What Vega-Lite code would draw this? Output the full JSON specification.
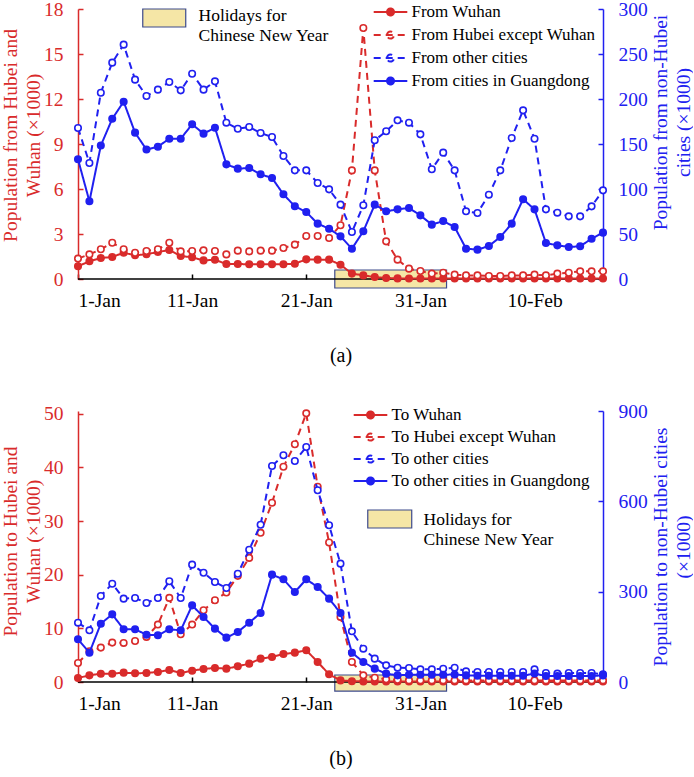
{
"$schema": "https://vega.github.io/schema/vega-lite/v6.json",
"padding": {"left": 0, "top": -1, "right": 0, "bottom": 0},
"spacing": 35,
"config": {
  "font": "Liberation Serif",
  "view": {"stroke": null},
  "axis": {"labelFont": "Liberation Serif", "titleFont": "Liberation Serif", "labelFontSize": 19.5, "titleFontSize": 19.5, "titleFontWeight": "normal", "grid": false, "tickSize": -5, "labelPadding": 20, "tickWidth": 1.5, "domainWidth": 1.5},
  "legend": {"labelFont": "Liberation Serif", "labelFontSize": 17, "labelColor": "black", "padding": 0, "labelLimit": 400}
},
"datasets": {
  "hol": [{"start": "2020-01-23T12:00:00Z", "end": "2020-02-02T07:00:00Z"}],
  "a": [
    {"date":"2020-01-01","From Wuhan":0.85,"From Hubei except Wuhan":1.36,"From other cities":167.8,"From cities in Guangdong":133},
    {"date":"2020-01-02","From Wuhan":1.18,"From Hubei except Wuhan":1.64,"From other cities":128.9,"From cities in Guangdong":86.3},
    {"date":"2020-01-03","From Wuhan":1.4,"From Hubei except Wuhan":1.98,"From other cities":207,"From cities in Guangdong":148.3},
    {"date":"2020-01-04","From Wuhan":1.47,"From Hubei except Wuhan":2.42,"From other cities":240.4,"From cities in Guangdong":178},
    {"date":"2020-01-05","From Wuhan":1.75,"From Hubei except Wuhan":1.98,"From other cities":260.4,"From cities in Guangdong":197},
    {"date":"2020-01-06","From Wuhan":1.58,"From Hubei except Wuhan":1.75,"From other cities":221.5,"From cities in Guangdong":162.6},
    {"date":"2020-01-07","From Wuhan":1.65,"From Hubei except Wuhan":1.87,"From other cities":203.3,"From cities in Guangdong":143.8},
    {"date":"2020-01-08","From Wuhan":1.8,"From Hubei except Wuhan":1.98,"From other cities":210.4,"From cities in Guangdong":147},
    {"date":"2020-01-09","From Wuhan":1.93,"From Hubei except Wuhan":2.42,"From other cities":218.9,"From cities in Guangdong":155.9},
    {"date":"2020-01-10","From Wuhan":1.53,"From Hubei except Wuhan":1.84,"From other cities":209.6,"From cities in Guangdong":155.9},
    {"date":"2020-01-11","From Wuhan":1.45,"From Hubei except Wuhan":1.87,"From other cities":228.1,"From cities in Guangdong":171.9},
    {"date":"2020-01-12","From Wuhan":1.24,"From Hubei except Wuhan":1.91,"From other cities":210.4,"From cities in Guangdong":161.5},
    {"date":"2020-01-13","From Wuhan":1.28,"From Hubei except Wuhan":1.87,"From other cities":219.6,"From cities in Guangdong":168.1},
    {"date":"2020-01-14","From Wuhan":1.0,"From Hubei except Wuhan":1.64,"From other cities":173.7,"From cities in Guangdong":127.4},
    {"date":"2020-01-15","From Wuhan":1.0,"From Hubei except Wuhan":1.89,"From other cities":167,"From cities in Guangdong":122.6},
    {"date":"2020-01-16","From Wuhan":0.98,"From Hubei except Wuhan":1.84,"From other cities":168.9,"From cities in Guangdong":123.3},
    {"date":"2020-01-17","From Wuhan":0.98,"From Hubei except Wuhan":1.89,"From other cities":162.2,"From cities in Guangdong":116.3},
    {"date":"2020-01-18","From Wuhan":0.98,"From Hubei except Wuhan":1.89,"From other cities":157.8,"From cities in Guangdong":112.2},
    {"date":"2020-01-19","From Wuhan":0.98,"From Hubei except Wuhan":2.07,"From other cities":136.7,"From cities in Guangdong":94.1},
    {"date":"2020-01-20","From Wuhan":1.02,"From Hubei except Wuhan":2.29,"From other cities":120.7,"From cities in Guangdong":80.8},
    {"date":"2020-01-21","From Wuhan":1.31,"From Hubei except Wuhan":2.87,"From other cities":120.7,"From cities in Guangdong":74.4},
    {"date":"2020-01-22","From Wuhan":1.29,"From Hubei except Wuhan":2.87,"From other cities":106.7,"From cities in Guangdong":61.5},
    {"date":"2020-01-23","From Wuhan":1.29,"From Hubei except Wuhan":2.73,"From other cities":99.6,"From cities in Guangdong":55.9},
    {"date":"2020-01-24","From Wuhan":0.95,"From Hubei except Wuhan":3.58,"From other cities":82.6,"From cities in Guangdong":47.4},
    {"date":"2020-01-25","From Wuhan":0.36,"From Hubei except Wuhan":7.24,"From other cities":52.2,"From cities in Guangdong":33.7},
    {"date":"2020-01-26","From Wuhan":0.24,"From Hubei except Wuhan":16.73,"From other cities":81.9,"From cities in Guangdong":53},
    {"date":"2020-01-27","From Wuhan":0.13,"From Hubei except Wuhan":7.24,"From other cities":154.1,"From cities in Guangdong":82.6},
    {"date":"2020-01-28","From Wuhan":0.07,"From Hubei except Wuhan":2.51,"From other cities":164.1,"From cities in Guangdong":75.2},
    {"date":"2020-01-29","From Wuhan":0.04,"From Hubei except Wuhan":1.29,"From other cities":176.3,"From cities in Guangdong":77.4},
    {"date":"2020-01-30","From Wuhan":0.03,"From Hubei except Wuhan":0.69,"From other cities":173.7,"From cities in Guangdong":78.9},
    {"date":"2020-01-31","From Wuhan":0.03,"From Hubei except Wuhan":0.53,"From other cities":160.7,"From cities in Guangdong":70.7},
    {"date":"2020-02-01","From Wuhan":0.03,"From Hubei except Wuhan":0.36,"From other cities":121.9,"From cities in Guangdong":60.4},
    {"date":"2020-02-02","From Wuhan":0.03,"From Hubei except Wuhan":0.42,"From other cities":140.4,"From cities in Guangdong":64.4},
    {"date":"2020-02-03","From Wuhan":0.03,"From Hubei except Wuhan":0.29,"From other cities":120.7,"From cities in Guangdong":57.8},
    {"date":"2020-02-04","From Wuhan":0.03,"From Hubei except Wuhan":0.24,"From other cities":75.2,"From cities in Guangdong":33.7},
    {"date":"2020-02-05","From Wuhan":0.03,"From Hubei except Wuhan":0.24,"From other cities":73.3,"From cities in Guangdong":32.6},
    {"date":"2020-02-06","From Wuhan":0.03,"From Hubei except Wuhan":0.2,"From other cities":93.7,"From cities in Guangdong":36.7},
    {"date":"2020-02-07","From Wuhan":0.03,"From Hubei except Wuhan":0.2,"From other cities":120.7,"From cities in Guangdong":46.7},
    {"date":"2020-02-08","From Wuhan":0.03,"From Hubei except Wuhan":0.24,"From other cities":156.7,"From cities in Guangdong":61.5},
    {"date":"2020-02-09","From Wuhan":0.03,"From Hubei except Wuhan":0.24,"From other cities":187.4,"From cities in Guangdong":88.6},
    {"date":"2020-02-10","From Wuhan":0.03,"From Hubei except Wuhan":0.29,"From other cities":155.9,"From cities in Guangdong":77.4},
    {"date":"2020-02-11","From Wuhan":0.03,"From Hubei except Wuhan":0.24,"From other cities":77.4,"From cities in Guangdong":40},
    {"date":"2020-02-12","From Wuhan":0.03,"From Hubei except Wuhan":0.36,"From other cities":73.7,"From cities in Guangdong":37.4},
    {"date":"2020-02-13","From Wuhan":0.03,"From Hubei except Wuhan":0.42,"From other cities":69.6,"From cities in Guangdong":35.6},
    {"date":"2020-02-14","From Wuhan":0.03,"From Hubei except Wuhan":0.51,"From other cities":69.6,"From cities in Guangdong":36.3},
    {"date":"2020-02-15","From Wuhan":0.03,"From Hubei except Wuhan":0.51,"From other cities":80.7,"From cities in Guangdong":44.8},
    {"date":"2020-02-16","From Wuhan":0.03,"From Hubei except Wuhan":0.51,"From other cities":98.5,"From cities in Guangdong":51.5}
  ],
  "b": [
    {"date":"2020-01-01","To Wuhan":0.75,"To Hubei except Wuhan":3.54,"To other cities":197,"To other cities in Guangdong":141.7},
    {"date":"2020-01-02","To Wuhan":1.24,"To Hubei except Wuhan":5.72,"To other cities":171.6,"To other cities in Guangdong":97.4},
    {"date":"2020-01-03","To Wuhan":1.55,"To Hubei except Wuhan":6.41,"To other cities":285.6,"To other cities in Guangdong":193.7},
    {"date":"2020-01-04","To Wuhan":1.55,"To Hubei except Wuhan":7.34,"To other cities":326.5,"To other cities in Guangdong":224.7},
    {"date":"2020-01-05","To Wuhan":1.74,"To Hubei except Wuhan":7.28,"To other cities":276.8,"To other cities in Guangdong":175},
    {"date":"2020-01-06","To Wuhan":1.62,"To Hubei except Wuhan":7.65,"To other cities":279,"To other cities in Guangdong":175},
    {"date":"2020-01-07","To Wuhan":1.68,"To Hubei except Wuhan":8.4,"To other cities":262.4,"To other cities in Guangdong":157.2},
    {"date":"2020-01-08","To Wuhan":1.87,"To Hubei except Wuhan":10.7,"To other cities":279,"To other cities in Guangdong":155},
    {"date":"2020-01-09","To Wuhan":2.24,"To Hubei except Wuhan":15.67,"To other cities":334.4,"To other cities in Guangdong":175},
    {"date":"2020-01-10","To Wuhan":1.68,"To Hubei except Wuhan":8.89,"To other cities":279,"To other cities in Guangdong":171.6},
    {"date":"2020-01-11","To Wuhan":2.11,"To Hubei except Wuhan":10.7,"To other cities":389.7,"To other cities in Guangdong":254.6},
    {"date":"2020-01-12","To Wuhan":2.43,"To Hubei except Wuhan":13.37,"To other cities":363,"To other cities in Guangdong":215.9},
    {"date":"2020-01-13","To Wuhan":2.61,"To Hubei except Wuhan":15.24,"To other cities":332.1,"To other cities in Guangdong":177.2},
    {"date":"2020-01-14","To Wuhan":2.49,"To Hubei except Wuhan":16.67,"To other cities":312.2,"To other cities in Guangdong":147.3},
    {"date":"2020-01-15","To Wuhan":2.92,"To Hubei except Wuhan":19.78,"To other cities":359.7,"To other cities in Guangdong":166},
    {"date":"2020-01-16","To Wuhan":3.42,"To Hubei except Wuhan":23.13,"To other cities":439.4,"To other cities in Guangdong":197},
    {"date":"2020-01-17","To Wuhan":4.35,"To Hubei except Wuhan":27.8,"To other cities":522.4,"To other cities in Guangdong":229.2},
    {"date":"2020-01-18","To Wuhan":4.66,"To Hubei except Wuhan":33.4,"To other cities":717.4,"To other cities in Guangdong":356.5},
    {"date":"2020-01-19","To Wuhan":5.22,"To Hubei except Wuhan":40.1,"To other cities":752.9,"To other cities in Guangdong":341},
    {"date":"2020-01-20","To Wuhan":5.47,"To Hubei except Wuhan":44.3,"To other cities":734,"To other cities in Guangdong":298.9},
    {"date":"2020-01-21","To Wuhan":5.91,"To Hubei except Wuhan":50.06,"To other cities":780.5,"To other cities in Guangdong":341},
    {"date":"2020-01-22","To Wuhan":3.73,"To Hubei except Wuhan":36.4,"To other cities":636.7,"To other cities in Guangdong":315.5},
    {"date":"2020-01-23","To Wuhan":1.43,"To Hubei except Wuhan":26,"To other cities":520.4,"To other cities in Guangdong":276.8},
    {"date":"2020-01-24","To Wuhan":0.3,"To Hubei except Wuhan":12.13,"To other cities":393,"To other cities in Guangdong":229.2},
    {"date":"2020-01-25","To Wuhan":0.15,"To Hubei except Wuhan":3.73,"To other cities":168.3,"To other cities in Guangdong":97.4},
    {"date":"2020-01-26","To Wuhan":0.1,"To Hubei except Wuhan":1.24,"To other cities":110.7,"To other cities in Guangdong":66.4},
    {"date":"2020-01-27","To Wuhan":0.1,"To Hubei except Wuhan":0.8,"To other cities":77.5,"To other cities in Guangdong":44.3},
    {"date":"2020-01-28","To Wuhan":0.1,"To Hubei except Wuhan":0.5,"To other cities":55.3,"To other cities in Guangdong":27.7},
    {"date":"2020-01-29","To Wuhan":0.1,"To Hubei except Wuhan":0.4,"To other cities":47.6,"To other cities in Guangdong":22.1},
    {"date":"2020-01-30","To Wuhan":0.1,"To Hubei except Wuhan":0.3,"To other cities":46.5,"To other cities in Guangdong":24},
    {"date":"2020-01-31","To Wuhan":0.1,"To Hubei except Wuhan":0.3,"To other cities":42,"To other cities in Guangdong":24},
    {"date":"2020-02-01","To Wuhan":0.1,"To Hubei except Wuhan":0.3,"To other cities":42,"To other cities in Guangdong":24},
    {"date":"2020-02-02","To Wuhan":0.1,"To Hubei except Wuhan":0.3,"To other cities":44,"To other cities in Guangdong":24},
    {"date":"2020-02-03","To Wuhan":0.1,"To Hubei except Wuhan":0.3,"To other cities":47.6,"To other cities in Guangdong":25},
    {"date":"2020-02-04","To Wuhan":0.1,"To Hubei except Wuhan":0.3,"To other cities":35.4,"To other cities in Guangdong":22},
    {"date":"2020-02-05","To Wuhan":0.1,"To Hubei except Wuhan":0.3,"To other cities":33.2,"To other cities in Guangdong":21},
    {"date":"2020-02-06","To Wuhan":0.1,"To Hubei except Wuhan":0.3,"To other cities":33.2,"To other cities in Guangdong":21},
    {"date":"2020-02-07","To Wuhan":0.1,"To Hubei except Wuhan":0.3,"To other cities":33.2,"To other cities in Guangdong":21},
    {"date":"2020-02-08","To Wuhan":0.1,"To Hubei except Wuhan":0.3,"To other cities":33.2,"To other cities in Guangdong":21},
    {"date":"2020-02-09","To Wuhan":0.1,"To Hubei except Wuhan":0.3,"To other cities":33.2,"To other cities in Guangdong":21},
    {"date":"2020-02-10","To Wuhan":0.1,"To Hubei except Wuhan":0.3,"To other cities":42,"To other cities in Guangdong":28},
    {"date":"2020-02-11","To Wuhan":0.1,"To Hubei except Wuhan":0.3,"To other cities":29.9,"To other cities in Guangdong":20},
    {"date":"2020-02-12","To Wuhan":0.1,"To Hubei except Wuhan":0.3,"To other cities":27.7,"To other cities in Guangdong":20},
    {"date":"2020-02-13","To Wuhan":0.1,"To Hubei except Wuhan":0.3,"To other cities":29.9,"To other cities in Guangdong":20},
    {"date":"2020-02-14","To Wuhan":0.1,"To Hubei except Wuhan":0.3,"To other cities":29.9,"To other cities in Guangdong":20},
    {"date":"2020-02-15","To Wuhan":0.1,"To Hubei except Wuhan":0.3,"To other cities":29.9,"To other cities in Guangdong":20},
    {"date":"2020-02-16","To Wuhan":0.1,"To Hubei except Wuhan":0.3,"To other cities":25.5,"To other cities in Guangdong":22}
  ]
},
"resolve": {"scale": {"x": "independent", "color": "independent", "strokeDash": "independent", "fill": "independent"}, "legend": {"color": "independent", "strokeDash": "independent", "fill": "independent"}},
"vconcat": [
  {
    "width": 525, "height": 270,
    "resolve": {"scale": {"y": "independent"}},
    "layer": [
      {
        "data": {"name": "hol"},
        "mark": {"type": "rect", "stroke": "#3d4a8c", "strokeWidth": 1.2},
        "encoding": {
          "x": {"field": "start", "type": "temporal", "scale": {"type": "utc", "nice": false, "domain": [{"year": 2020, "month": 1, "date": 1, "utc": true}, {"year": 2020, "month": 2, "date": 16, "utc": true}]},
            "axis": {"values": [{"year": 2020, "month": 1, "date": 1, "utc": true}, {"year": 2020, "month": 1, "date": 11, "utc": true}, {"year": 2020, "month": 1, "date": 21, "utc": true}, {"year": 2020, "month": 1, "date": 31, "utc": true}, {"year": 2020, "month": 2, "date": 10, "utc": true}], "format": "%-d-%b", "title": "(a)", "titleFontSize": 20, "titlePadding": 36, "labelPadding": 17, "domain": false, "tickColor": "black", "labelColor": "black", "titleColor": "black"}},
          "x2": {"field": "end"},
          "y": {"datum": -0.6, "type": "quantitative", "scale": {"domain": [0, 18]}, "axis": null},
          "y2": {"datum": 0.6},
          "fill": {"datum": "Holidays for Chinese New Year", "type": "nominal", "scale": {"range": ["#f5e6a6"]},
            "legend": {"orient": "none", "legendX": 77.5, "legendY": -1.75, "title": null, "symbolType": "M-3.07,-1H3.07V1.57H-3.07Z", "symbolSize": 196, "symbolStrokeColor": "#3d4a8c", "symbolStrokeWidth": 1.2, "labelOffset": 25.5, "labelFont": "Liberation Serif", "labelFontSize": 17.5, "labelExpr": "['Holidays for', 'Chinese New Year']"}}
        }
      },
      {
        "data": {"values": [{}]},
        "mark": {"type": "rule", "color": "black", "strokeWidth": 1.5},
        "encoding": {"y": {"datum": 0, "type": "quantitative", "scale": {"domain": [0, 18]}, "axis": null}}
      },
      {
        "data": {"name": "a"},
        "transform": [{"fold": ["From Wuhan", "From Hubei except Wuhan"], "as": ["series", "value"]}],
        "mark": {"type": "line", "strokeWidth": 2},
        "encoding": {
          "x": {"field": "date", "type": "temporal", "scale": {"type": "utc", "nice": false, "domain": [{"year": 2020, "month": 1, "date": 1, "utc": true}, {"year": 2020, "month": 2, "date": 16, "utc": true}]}},
          "y": {"field": "value", "type": "quantitative", "scale": {"domain": [0, 18]},
            "axis": {"orient": "left", "values": [0, 3, 6, 9, 12, 15, 18], "title": ["Population from Hubei and", "Wuhan (×1000)"], "titleY": 126, "titleLineHeight": 23, "titlePadding": 0, "titleColor": "#d92b2b", "labelColor": "#d92b2b", "domainColor": "#d92b2b", "tickColor": "#d92b2b"}},
          "color": {"field": "series", "type": "nominal", "scale": {"domain": ["From Wuhan", "From Hubei except Wuhan", "From other cities", "From cities in Guangdong"], "range": ["#d92b2b", "#d92b2b", "#2020f0", "#2020f0"]},
            "legend": {"orient": "none", "legendX": 304, "legendY": -5.5, "title": null, "symbolType": "M-2.4,0H2.4M-0.5,0A0.5,0.5,0,1,1,0.5,0A0.5,0.5,0,1,1,-0.5,0", "symbolSize": 196, "symbolStrokeWidth": 2, "labelOffset": 12.5, "rowPadding": 5, "labelFont": "Liberation Serif", "labelFontSize": 17, "labelLimit": 400, "encode": {"symbols": {"update": {"fill": {"signal": "datum.value === 'From Wuhan' ? '#d92b2b' : datum.value === 'From cities in Guangdong' ? '#2020f0' : 'white'"}}}}}},
          "strokeDash": {"field": "series", "type": "nominal", "scale": {"domain": ["From Wuhan", "From Hubei except Wuhan", "From other cities", "From cities in Guangdong"], "range": [[1, 0], [7, 5], [7, 5], [1, 0]]},
            "legend": {"orient": "none", "legendX": 304, "legendY": -5.5, "title": null, "symbolType": "M-2.4,0H2.4M-0.5,0A0.5,0.5,0,1,1,0.5,0A0.5,0.5,0,1,1,-0.5,0", "symbolSize": 196, "symbolStrokeWidth": 2, "labelOffset": 12.5, "rowPadding": 5, "labelFont": "Liberation Serif", "labelFontSize": 17, "labelLimit": 400, "encode": {"symbols": {"update": {"fill": {"signal": "datum.value === 'From Wuhan' ? '#d92b2b' : datum.value === 'From cities in Guangdong' ? '#2020f0' : 'white'"}}}}}}
        }
      },
      {
        "data": {"name": "a"},
        "transform": [{"fold": ["From Wuhan", "From Hubei except Wuhan"], "as": ["series", "value"]}],
        "mark": {"type": "point", "shape": "circle", "filled": false, "size": 42, "strokeWidth": 1.6, "opacity": 1},
        "encoding": {
          "x": {"field": "date", "type": "temporal", "scale": {"type": "utc", "nice": false, "domain": [{"year": 2020, "month": 1, "date": 1, "utc": true}, {"year": 2020, "month": 2, "date": 16, "utc": true}]}},
          "y": {"field": "value", "type": "quantitative", "scale": {"domain": [0, 18]}, "axis": null},
          "color": {"field": "series", "type": "nominal", "legend": null},
          "fill": {"condition": {"test": "datum.series === 'From Wuhan'", "value": "#d92b2b"}, "value": "white"}
        }
      },
      {
        "data": {"name": "a"},
        "transform": [{"fold": ["From other cities", "From cities in Guangdong"], "as": ["series", "value"]}],
        "mark": {"type": "line", "strokeWidth": 2},
        "encoding": {
          "x": {"field": "date", "type": "temporal", "scale": {"type": "utc", "nice": false, "domain": [{"year": 2020, "month": 1, "date": 1, "utc": true}, {"year": 2020, "month": 2, "date": 16, "utc": true}]}},
          "y": {"field": "value", "type": "quantitative", "scale": {"domain": [0, 300]},
            "axis": {"orient": "right", "values": [0, 50, 100, 150, 200, 250, 300], "title": ["Population from non-Hubei", "cities (×1000)"], "titleY": 113, "titleAngle": 270, "titleBaseline": "top", "titleLineHeight": 23, "titlePadding": -19, "titleColor": "#2020f0", "labelColor": "#2020f0", "domainColor": "#2020f0", "tickColor": "#2020f0"}},
          "color": {"field": "series", "type": "nominal", "legend": null},
          "strokeDash": {"field": "series", "type": "nominal", "legend": null}
        }
      },
      {
        "data": {"name": "a"},
        "transform": [{"fold": ["From other cities", "From cities in Guangdong"], "as": ["series", "value"]}],
        "mark": {"type": "point", "shape": "circle", "filled": false, "size": 42, "strokeWidth": 1.6, "opacity": 1},
        "encoding": {
          "x": {"field": "date", "type": "temporal", "scale": {"type": "utc", "nice": false, "domain": [{"year": 2020, "month": 1, "date": 1, "utc": true}, {"year": 2020, "month": 2, "date": 16, "utc": true}]}},
          "y": {"field": "value", "type": "quantitative", "scale": {"domain": [0, 300]}, "axis": null},
          "color": {"field": "series", "type": "nominal", "legend": null},
          "fill": {"condition": {"test": "datum.series === 'From cities in Guangdong'", "value": "#2020f0"}, "value": "white"}
        }
      }
    ]
  },
  {
    "width": 525, "height": 271,
    "resolve": {"scale": {"y": "independent"}},
    "layer": [
      {
        "data": {"name": "hol"},
        "mark": {"type": "rect", "stroke": "#3d4a8c", "strokeWidth": 1.2},
        "encoding": {
          "x": {"field": "start", "type": "temporal", "scale": {"type": "utc", "nice": false, "domain": [{"year": 2020, "month": 1, "date": 1, "utc": true}, {"year": 2020, "month": 2, "date": 16, "utc": true}]},
            "axis": {"values": [{"year": 2020, "month": 1, "date": 1, "utc": true}, {"year": 2020, "month": 1, "date": 11, "utc": true}, {"year": 2020, "month": 1, "date": 21, "utc": true}, {"year": 2020, "month": 1, "date": 31, "utc": true}, {"year": 2020, "month": 2, "date": 10, "utc": true}], "format": "%-d-%b", "title": "(b)", "titleFontSize": 20, "titlePadding": 36, "labelPadding": 17, "domain": false, "tickColor": "black", "labelColor": "black", "titleColor": "black"}},
          "x2": {"field": "end"},
          "y": {"datum": -1.7, "type": "quantitative", "scale": {"domain": [0, 50.5]}, "axis": null},
          "y2": {"datum": 1.3},
          "fill": {"datum": "Holidays for Chinese New Year", "type": "nominal", "scale": {"range": ["#f5e6a6"]},
            "legend": {"orient": "none", "legendX": 303, "legendY": 100.25, "title": null, "symbolType": "M-3.14,-1.43H3.14V1.14H-3.14Z", "symbolSize": 196, "symbolStrokeColor": "#3d4a8c", "symbolStrokeWidth": 1.2, "labelOffset": 25, "labelFont": "Liberation Serif", "labelFontSize": 17.5, "labelExpr": "['Holidays for', 'Chinese New Year']"}}
        }
      },
      {
        "data": {"values": [{}]},
        "mark": {"type": "rule", "color": "black", "strokeWidth": 1.5},
        "encoding": {"y": {"datum": 0, "type": "quantitative", "scale": {"domain": [0, 50.5]}, "axis": null}}
      },
      {
        "data": {"name": "b"},
        "transform": [{"fold": ["To Wuhan", "To Hubei except Wuhan"], "as": ["series", "value"]}],
        "mark": {"type": "line", "strokeWidth": 2},
        "encoding": {
          "x": {"field": "date", "type": "temporal", "scale": {"type": "utc", "nice": false, "domain": [{"year": 2020, "month": 1, "date": 1, "utc": true}, {"year": 2020, "month": 2, "date": 16, "utc": true}]}},
          "y": {"field": "value", "type": "quantitative", "scale": {"domain": [0, 50.5]},
            "axis": {"orient": "left", "values": [0, 10, 20, 30, 40, 50], "title": ["Population to Hubei and", "Wuhan (×1000)"], "titleY": 130, "titleLineHeight": 23, "titlePadding": 0, "titleColor": "#d92b2b", "labelColor": "#d92b2b", "domainColor": "#d92b2b", "tickColor": "#d92b2b"}},
          "color": {"field": "series", "type": "nominal", "scale": {"domain": ["To Wuhan", "To Hubei except Wuhan", "To other cities", "To other cities in Guangdong"], "range": ["#d92b2b", "#d92b2b", "#2020f0", "#2020f0"]},
            "legend": {"orient": "none", "legendX": 284, "legendY": -4.5, "title": null, "symbolType": "M-2.4,0H2.4M-0.5,0A0.5,0.5,0,1,1,0.5,0A0.5,0.5,0,1,1,-0.5,0", "symbolSize": 196, "symbolStrokeWidth": 2, "labelOffset": 12.5, "rowPadding": 4, "labelFont": "Liberation Serif", "labelFontSize": 17, "labelLimit": 400, "encode": {"symbols": {"update": {"fill": {"signal": "datum.value === 'To Wuhan' ? '#d92b2b' : datum.value === 'To other cities in Guangdong' ? '#2020f0' : 'white'"}}}}}},
          "strokeDash": {"field": "series", "type": "nominal", "scale": {"domain": ["To Wuhan", "To Hubei except Wuhan", "To other cities", "To other cities in Guangdong"], "range": [[1, 0], [7, 5], [7, 5], [1, 0]]},
            "legend": {"orient": "none", "legendX": 284, "legendY": -4.5, "title": null, "symbolType": "M-2.4,0H2.4M-0.5,0A0.5,0.5,0,1,1,0.5,0A0.5,0.5,0,1,1,-0.5,0", "symbolSize": 196, "symbolStrokeWidth": 2, "labelOffset": 12.5, "rowPadding": 4, "labelFont": "Liberation Serif", "labelFontSize": 17, "labelLimit": 400, "encode": {"symbols": {"update": {"fill": {"signal": "datum.value === 'To Wuhan' ? '#d92b2b' : datum.value === 'To other cities in Guangdong' ? '#2020f0' : 'white'"}}}}}}
        }
      },
      {
        "data": {"name": "b"},
        "transform": [{"fold": ["To Wuhan", "To Hubei except Wuhan"], "as": ["series", "value"]}],
        "mark": {"type": "point", "shape": "circle", "filled": false, "size": 42, "strokeWidth": 1.6, "opacity": 1},
        "encoding": {
          "x": {"field": "date", "type": "temporal", "scale": {"type": "utc", "nice": false, "domain": [{"year": 2020, "month": 1, "date": 1, "utc": true}, {"year": 2020, "month": 2, "date": 16, "utc": true}]}},
          "y": {"field": "value", "type": "quantitative", "scale": {"domain": [0, 50.5]}, "axis": null},
          "color": {"field": "series", "type": "nominal", "legend": null},
          "fill": {"condition": {"test": "datum.series === 'To Wuhan'", "value": "#d92b2b"}, "value": "white"}
        }
      },
      {
        "data": {"name": "b"},
        "transform": [{"fold": ["To other cities", "To other cities in Guangdong"], "as": ["series", "value"]}],
        "mark": {"type": "line", "strokeWidth": 2},
        "encoding": {
          "x": {"field": "date", "type": "temporal", "scale": {"type": "utc", "nice": false, "domain": [{"year": 2020, "month": 1, "date": 1, "utc": true}, {"year": 2020, "month": 2, "date": 16, "utc": true}]}},
          "y": {"field": "value", "type": "quantitative", "scale": {"domain": [0, 900]},
            "axis": {"orient": "right", "values": [0, 300, 600, 900], "title": ["Population to non-Hubei cities", "(×1000)"], "titleAngle": 270, "titleBaseline": "top", "titleLineHeight": 23, "titlePadding": -19, "titleColor": "#2020f0", "labelColor": "#2020f0", "domainColor": "#2020f0", "tickColor": "#2020f0"}},
          "color": {"field": "series", "type": "nominal", "legend": null},
          "strokeDash": {"field": "series", "type": "nominal", "legend": null}
        }
      },
      {
        "data": {"name": "b"},
        "transform": [{"fold": ["To other cities", "To other cities in Guangdong"], "as": ["series", "value"]}],
        "mark": {"type": "point", "shape": "circle", "filled": false, "size": 42, "strokeWidth": 1.6, "opacity": 1},
        "encoding": {
          "x": {"field": "date", "type": "temporal", "scale": {"type": "utc", "nice": false, "domain": [{"year": 2020, "month": 1, "date": 1, "utc": true}, {"year": 2020, "month": 2, "date": 16, "utc": true}]}},
          "y": {"field": "value", "type": "quantitative", "scale": {"domain": [0, 900]}, "axis": null},
          "color": {"field": "series", "type": "nominal", "legend": null},
          "fill": {"condition": {"test": "datum.series === 'To other cities in Guangdong'", "value": "#2020f0"}, "value": "white"}
        }
      }
    ]
  }
]
}
